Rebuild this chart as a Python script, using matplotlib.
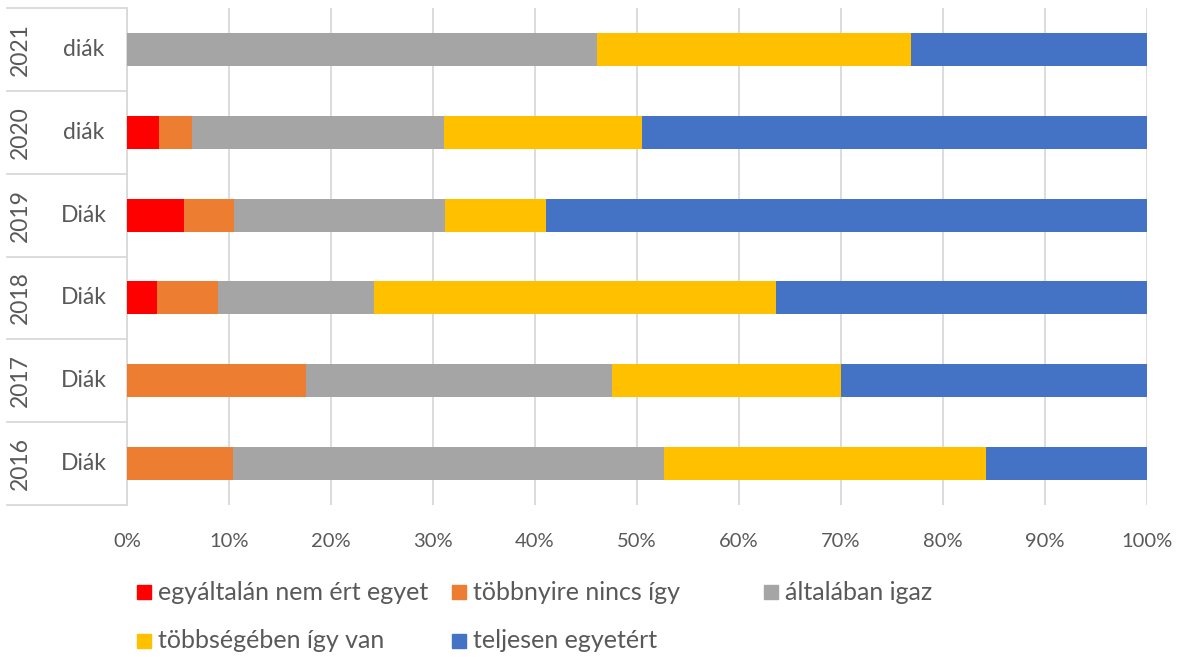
import matplotlib
matplotlib.use("Agg")
import matplotlib.pyplot as plt
from matplotlib.patches import Rectangle
from matplotlib.transforms import blended_transform_factory
from matplotlib.ticker import PercentFormatter

plt.rcParams['font.family'] = ['Lato', 'DejaVu Sans']

# adatok (alulról felfelé)
evek = ['2016', '2017', '2018', '2019', '2020', '2021']
csoport = ['Diák', 'Diák', 'Diák', 'Diák', 'diák', 'diák']
kategoriak = ['egyáltalán nem ért egyet', 'többnyire nincs így', 'általában igaz',
              'többségében így van', 'teljesen egyetért']
szinek = ['#ff0000', '#ed7d31', '#a5a5a5', '#ffc000', '#4472c4']

egyaltalan = [0.0, 0.0, 2.9, 5.6, 3.15, 0.0]
tobbnyire = [10.4, 17.5, 6.0, 4.9, 3.25, 0.0]
altalaban = [42.2, 30.0, 15.3, 20.7, 24.7, 46.1]
tobbsegeben = [31.6, 22.5, 39.4, 9.9, 19.4, 30.8]
teljesen = [15.8, 30.0, 36.4, 58.9, 49.5, 23.1]
sorozatok = [egyaltalan, tobbnyire, altalaban, tobbsegeben, teljesen]

W, H = 1181, 657
fig = plt.figure(figsize=(W / 100, H / 100), dpi=100)
ax = fig.add_axes([127 / W, 1 - 505 / H, 1020 / W, 497 / H])

y = list(range(len(evek)))
bal = [0.0] * len(evek)
for nev, ertekek, szin in zip(kategoriak, sorozatok, szinek):
    ax.barh(y, ertekek, left=bal, height=0.4, color=szin, label=nev, zorder=3)
    bal = [b + e for b, e in zip(bal, ertekek)]

ax.set_xlim(0, 100)
ax.set_ylim(-0.5, len(evek) - 0.5)
ax.set_xticks(range(0, 101, 10))
ax.xaxis.set_major_formatter(PercentFormatter(decimals=0))
ax.tick_params(axis='x', length=0, pad=20, labelsize=14.5, labelcolor='#595959')
ax.set_yticks([])
ax.grid(axis='x', color='#d9d9d9', linewidth=1.3, zorder=0)
for s in ['top', 'right', 'bottom']:
    ax.spines[s].set_visible(False)
ax.spines['left'].set_color('#d9d9d9')
ax.spines['left'].set_linewidth(1.3)

# többszintű kategória tengely
tr = blended_transform_factory(fig.transFigure, ax.transData)
for k in range(len(evek) + 1):
    ax.plot([7 / W, 127 / W], [k - 0.5, k - 0.5], transform=tr, color='#d9d9d9',
            linewidth=1.3, clip_on=False)
for i, (ev, cs) in enumerate(zip(evek, csoport)):
    ax.text(20 / W, i, ev, transform=tr, rotation=90, ha='center', va='center',
            fontsize=16.5, color='#595959')
    ax.text(84 / W, i, cs, transform=tr, ha='center', va='center',
            fontsize=16.5, color='#595959')

# jelmagyarázat
poz = [(137, 592), (452, 592), (764, 592), (137, 641), (452, 641)]
for (px, py), nev, szin in zip(poz, kategoriak, szinek):
    fig.add_artist(Rectangle((px / W, 1 - (py + 7) / H), 14 / W, 14 / H,
                             transform=fig.transFigure, color=szin))
    fig.text((px + 21) / W, 1 - py / H, nev, ha='left', va='center',
             fontsize=18, color='#595959')

fig.savefig('out.png', dpi=100)
